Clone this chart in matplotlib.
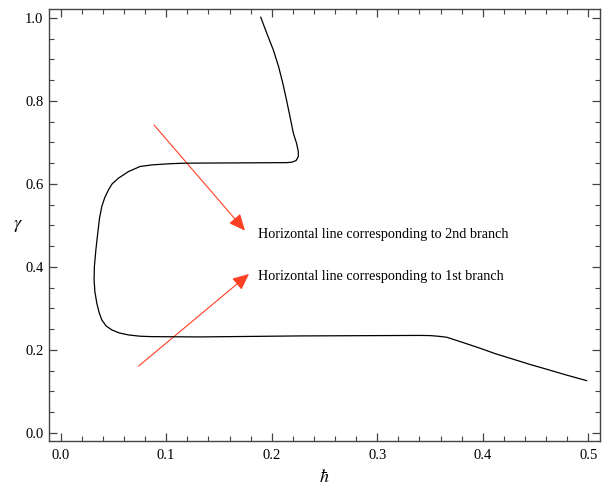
import matplotlib
matplotlib.use("Agg")
import matplotlib.pyplot as plt
from matplotlib.ticker import MultipleLocator
from matplotlib.patches import FancyArrowPatch

plt.rcParams['font.family'] = ['Liberation Serif', 'DejaVu Serif']
plt.rcParams['mathtext.fontset'] = 'stix'

# curve (one continuous branch)
hbar = [0.1896, 0.1953, 0.2015, 0.2065, 0.2105, 0.2140, 0.2173, 0.2205,
        0.2235, 0.2252, 0.2252, 0.2230, 0.2189, 0.2142, 0.180, 0.140,
        0.118, 0.1037, 0.0864, 0.0753, 0.0642, 0.0547, 0.0488, 0.0453,
        0.0417, 0.0390, 0.0369, 0.0352, 0.0334, 0.0320, 0.0317, 0.0325,
        0.0343, 0.0363, 0.0390, 0.0431, 0.0485, 0.0554, 0.0642, 0.0753,
        0.0864, 0.132, 0.2268, 0.3026, 0.3404, 0.3500, 0.3575, 0.3657,
        0.3736, 0.3814, 0.3973, 0.4124, 0.4288, 0.4446, 0.4604, 0.4787,
        0.4983]
gamma = [1.0017, 0.9631, 0.9229, 0.8827, 0.8427, 0.8024, 0.7622, 0.7222,
         0.6981, 0.6778, 0.6658, 0.6561, 0.6523, 0.6513, 0.6508, 0.6503,
         0.6500, 0.6487, 0.6458, 0.6420, 0.6296, 0.6137, 0.6000, 0.5855,
         0.5663, 0.5453, 0.5180, 0.4820, 0.4410, 0.4007, 0.3687, 0.3398,
         0.3125, 0.2916, 0.2723, 0.2578, 0.2482, 0.2410, 0.2361, 0.2330,
         0.2320, 0.2313, 0.2337, 0.2345, 0.2349, 0.2345, 0.2330, 0.2306,
         0.2241, 0.2176, 0.2041, 0.1904, 0.1776, 0.1650, 0.1535, 0.1398,
         0.1260]

# annotations: (tail, tip, label)
arrow_tails = [(0.0885, 0.742), (0.0739, 0.161)]
arrow_tips = [(0.1747, 0.4875), (0.1785, 0.383)]
labels = ["Horizontal line corresponding to 2nd branch",
          "Horizontal line corresponding to 1st branch"]
label_pos = [(0.187, 0.477), (0.187, 0.376)]

fig = plt.figure(figsize=(6.03, 4.86), dpi=100)
ax = fig.add_axes([49 / 603, 1 - 441 / 486, 551 / 603, 432 / 486])

ax.plot(hbar, gamma, color='black', lw=0.9, solid_joinstyle='round')

for tail, tip in zip(arrow_tails, arrow_tips):
    arr = FancyArrowPatch(tail, tip, arrowstyle='-|>,head_length=10,head_width=4.5',
                          color='#ff4024', lw=0.8, shrinkA=0, shrinkB=0)
    ax.add_patch(arr)

for (x, y), s in zip(label_pos, labels):
    ax.text(x, y, s, fontsize=10.2, va='center', ha='left')

ax.set_xlim(-0.011, 0.511)
ax.set_ylim(-0.0195, 1.0215)
ax.xaxis.set_major_locator(MultipleLocator(0.1))
ax.xaxis.set_minor_locator(MultipleLocator(0.02))
ax.yaxis.set_major_locator(MultipleLocator(0.2))
ax.yaxis.set_minor_locator(MultipleLocator(0.05))
ax.xaxis.set_major_formatter(plt.FuncFormatter(lambda v, p: f"{v:.1f}"))
ax.yaxis.set_major_formatter(plt.FuncFormatter(lambda v, p: f"{v:.1f}"))

frame = '#444444'
for sp in ax.spines.values():
    sp.set_color(frame)
    sp.set_linewidth(1.0)
ax.tick_params(which='both', direction='in', top=True, right=True,
               color=frame, labelsize=10.5)
ax.tick_params(which='major', length=6, width=0.9)
ax.tick_params(which='minor', length=3.5, width=0.8)
ax.tick_params(axis='x', pad=6)
ax.tick_params(axis='y', pad=4)

ax.set_xlabel(r'$\hbar$', fontsize=13, labelpad=5)
ax.set_ylabel(r'$\gamma$', fontsize=13, rotation=0, labelpad=5, va='center')

fig.savefig('out.png', dpi=100)
